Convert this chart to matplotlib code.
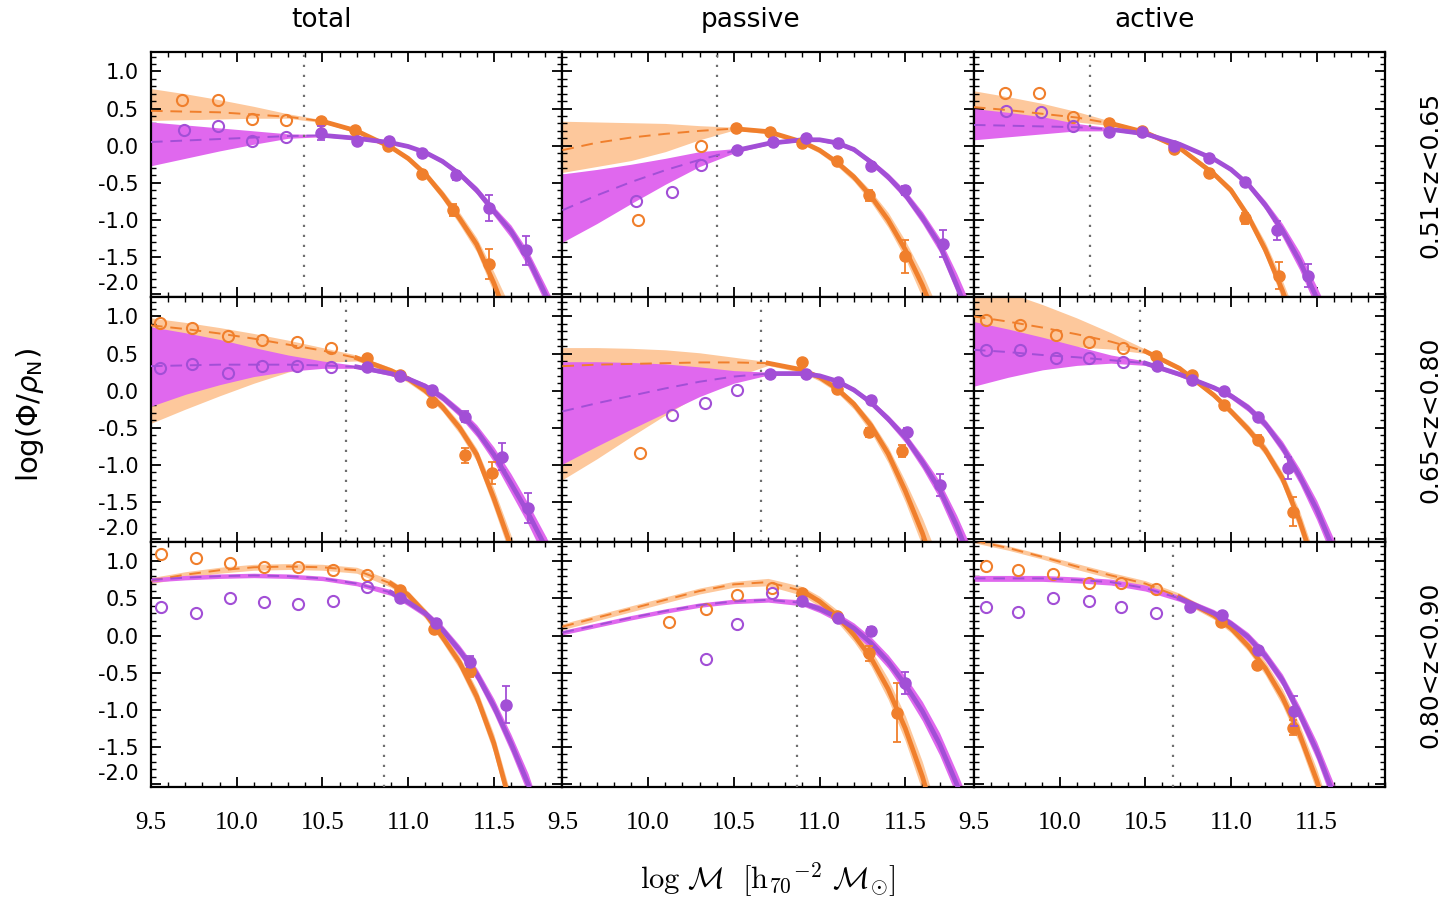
import numpy as np
import matplotlib.pyplot as plt
from matplotlib.ticker import MultipleLocator, FormatStrFormatter

plt.rcParams["axes.unicode_minus"] = False

# ── DATA ──────────────────────────────────────────────────────────────────────
# panels in reading order: rows = redshift bins, columns = total/passive/active
COLUMN_TITLES = ["total", "passive", "active"]
ROW_LABELS = ["0.51<z<0.65", "0.65<z<0.80", "0.80<z<0.90"]

# mass completeness limit per panel (vertical dotted line)
COMPLETENESS = [10.39, 10.40, 10.18, 10.64, 10.66, 10.47, 10.86, 10.87, 10.66]

GRID = [9.5, 9.7, 9.9, 10.1, 10.3, 10.5, 10.7, 10.9, 11.0, 11.1,
        11.2, 11.3, 11.4, 11.5, 11.6, 11.7, 11.8, 11.9]

# orange sample: best fit and its uncertainty band
OR_FIT = [
    [0.47, 0.46, 0.45, 0.42, 0.39, 0.33, 0.20, -0.02, -0.17, -0.38, -0.66, -0.98, -1.33, -1.85, -2.45, -3.1, -3.8, -4.5],
    [-0.06, 0.04, 0.11, 0.16, 0.20, 0.23, 0.19, 0.05, -0.06, -0.22, -0.42, -0.68, -1.00, -1.40, -1.88, -2.45, -3.1, -3.8],
    [0.52, 0.48, 0.43, 0.38, 0.30, 0.18, -0.03, -0.38, -0.60, -0.95, -1.40, -1.95, -2.6, -3.3, -4.0, -4.7, -5.4, -6.1],
    [0.88, 0.83, 0.77, 0.70, 0.62, 0.54, 0.44, 0.27, 0.16, 0.00, -0.22, -0.50, -0.86, -1.45, -2.10, -2.8, -3.5, -4.2],
    [0.33, 0.35, 0.36, 0.37, 0.38, 0.38, 0.37, 0.28, 0.18, 0.03, -0.18, -0.47, -0.85, -1.35, -1.92, -2.6, -3.3, -4.0],
    [1.00, 0.93, 0.85, 0.76, 0.66, 0.53, 0.30, -0.06, -0.28, -0.52, -0.80, -1.18, -1.75, -2.45, -3.2, -3.9, -4.6, -5.3],
    [0.74, 0.82, 0.88, 0.92, 0.93, 0.92, 0.88, 0.70, 0.55, 0.30, -0.02, -0.36, -0.82, -1.45, -2.3, -3.1, -3.9, -4.7],
    [0.12, 0.24, 0.36, 0.48, 0.60, 0.69, 0.72, 0.60, 0.46, 0.27, 0.01, -0.30, -0.72, -1.25, -1.90, -2.7, -3.5, -4.3],
    [1.28, 1.18, 1.06, 0.93, 0.81, 0.70, 0.52, 0.27, 0.10, -0.14, -0.44, -0.83, -1.33, -1.95, -2.7, -3.5, -4.3, -5.1],
]
OR_HI = [
    [0.77, 0.70, 0.62, 0.53, 0.43, 0.35, 0.23, 0.00, -0.14, -0.34, -0.60, -0.90, -1.24, -1.70, -2.20, -2.8, -3.5, -4.2],
    [0.33, 0.32, 0.31, 0.30, 0.27, 0.25, 0.21, 0.08, -0.03, -0.18, -0.37, -0.61, -0.90, -1.28, -1.72, -2.25, -2.9, -3.6],
    [0.74, 0.66, 0.57, 0.46, 0.33, 0.21, 0.00, -0.34, -0.55, -0.89, -1.30, -1.82, -2.4, -3.1, -3.8, -4.5, -5.2, -5.9],
    [0.98, 0.92, 0.85, 0.77, 0.68, 0.58, 0.48, 0.31, 0.20, 0.05, -0.16, -0.43, -0.78, -1.32, -1.95, -2.6, -3.3, -4.0],
    [0.58, 0.58, 0.57, 0.55, 0.51, 0.45, 0.39, 0.31, 0.21, 0.07, -0.13, -0.40, -0.76, -1.22, -1.72, -2.3, -3.0, -3.7],
    [1.45, 1.32, 1.16, 0.98, 0.78, 0.56, 0.33, -0.02, -0.23, -0.46, -0.73, -1.10, -1.62, -2.3, -3.0, -3.7, -4.4, -5.1],
    [0.78, 0.86, 0.92, 0.96, 0.97, 0.96, 0.92, 0.75, 0.60, 0.36, 0.05, -0.28, -0.72, -1.33, -2.15, -2.95, -3.75, -4.55],
    [0.16, 0.28, 0.40, 0.52, 0.64, 0.73, 0.77, 0.66, 0.53, 0.35, 0.10, -0.19, -0.58, -1.08, -1.70, -2.45, -3.25, -4.05],
    [1.31, 1.21, 1.09, 0.97, 0.85, 0.74, 0.57, 0.32, 0.16, -0.07, -0.35, -0.72, -1.20, -1.80, -2.5, -3.3, -4.1, -4.9],
]
OR_LO = [
    [0.34, 0.35, 0.36, 0.37, 0.37, 0.31, 0.17, -0.05, -0.21, -0.43, -0.72, -1.06, -1.43, -1.98, -2.65, -3.3, -4.0, -4.7],
    [-0.36, -0.28, -0.20, -0.08, 0.08, 0.21, 0.16, 0.02, -0.10, -0.27, -0.48, -0.76, -1.10, -1.52, -2.05, -2.7, -3.4, -4.1],
    [0.30, 0.30, 0.31, 0.32, 0.27, 0.15, -0.06, -0.42, -0.65, -1.01, -1.48, -2.08, -2.75, -3.5, -4.2, -4.9, -5.6, -6.3],
    [-0.44, -0.25, -0.07, 0.10, 0.25, 0.38, 0.40, 0.23, 0.11, -0.05, -0.28, -0.58, -0.95, -1.58, -2.25, -2.95, -3.7, -4.4],
    [-1.20, -0.92, -0.62, -0.33, -0.05, 0.18, 0.34, 0.24, 0.13, -0.02, -0.25, -0.56, -0.97, -1.50, -2.10, -2.8, -3.5, -4.2],
    [0.60, 0.60, 0.60, 0.59, 0.56, 0.50, 0.27, -0.10, -0.33, -0.58, -0.87, -1.27, -1.88, -2.6, -3.4, -4.1, -4.8, -5.5],
    [0.70, 0.78, 0.84, 0.88, 0.89, 0.88, 0.84, 0.65, 0.49, 0.23, -0.09, -0.45, -0.93, -1.58, -2.45, -3.25, -4.05, -4.85],
    [0.08, 0.20, 0.32, 0.44, 0.56, 0.65, 0.67, 0.54, 0.39, 0.19, -0.08, -0.41, -0.86, -1.42, -2.10, -2.95, -3.75, -4.55],
    [1.25, 1.15, 1.03, 0.89, 0.77, 0.66, 0.47, 0.22, 0.04, -0.21, -0.53, -0.94, -1.46, -2.10, -2.9, -3.7, -4.5, -5.3],
]

# purple sample: best fit and its uncertainty band
PU_FIT = [
    [0.05, 0.07, 0.09, 0.11, 0.13, 0.14, 0.10, 0.04, -0.01, -0.09, -0.21, -0.38, -0.60, -0.88, -1.15, -1.52, -2.00, -2.5],
    [-0.87, -0.67, -0.49, -0.33, -0.19, -0.07, 0.03, 0.08, 0.08, 0.04, -0.05, -0.22, -0.42, -0.66, -0.97, -1.33, -1.88, -2.45],
    [0.28, 0.27, 0.26, 0.25, 0.22, 0.16, 0.02, -0.18, -0.32, -0.52, -0.80, -1.14, -1.55, -2.05, -2.6, -3.2, -3.9, -4.6],
    [0.33, 0.34, 0.35, 0.35, 0.35, 0.34, 0.32, 0.23, 0.16, 0.06, -0.09, -0.29, -0.54, -0.86, -1.25, -1.65, -2.10, -2.6],
    [-0.28, -0.17, -0.07, 0.03, 0.12, 0.19, 0.23, 0.23, 0.20, 0.13, 0.01, -0.16, -0.38, -0.63, -0.96, -1.33, -1.82, -2.4],
    [0.55, 0.52, 0.48, 0.45, 0.41, 0.37, 0.22, 0.04, -0.07, -0.23, -0.45, -0.76, -1.15, -1.60, -2.15, -2.8, -3.5, -4.2],
    [0.75, 0.78, 0.80, 0.81, 0.80, 0.77, 0.70, 0.58, 0.45, 0.30, 0.08, -0.20, -0.52, -0.95, -1.45, -2.00, -2.7, -3.4],
    [0.04, 0.14, 0.24, 0.33, 0.41, 0.46, 0.48, 0.44, 0.36, 0.25, 0.10, -0.10, -0.35, -0.66, -1.02, -1.46, -2.00, -2.6],
    [0.77, 0.77, 0.77, 0.75, 0.72, 0.64, 0.50, 0.30, 0.16, -0.02, -0.27, -0.60, -1.05, -1.55, -2.15, -2.8, -3.5, -4.2],
]
PU_HI = [
    [0.32, 0.28, 0.24, 0.20, 0.16, 0.15, 0.12, 0.06, 0.01, -0.07, -0.18, -0.34, -0.55, -0.82, -1.07, -1.42, -1.88, -2.35],
    [-0.38, -0.32, -0.25, -0.17, -0.08, -0.04, 0.05, 0.10, 0.10, 0.07, -0.02, -0.18, -0.37, -0.60, -0.89, -1.24, -1.72, -2.25],
    [0.50, 0.45, 0.39, 0.30, 0.24, 0.18, 0.04, -0.16, -0.29, -0.48, -0.74, -1.05, -1.43, -1.90, -2.4, -3.0, -3.7, -4.4],
    [0.86, 0.78, 0.69, 0.58, 0.48, 0.40, 0.34, 0.26, 0.19, 0.10, -0.04, -0.23, -0.46, -0.76, -1.12, -1.52, -1.95, -2.4],
    [0.39, 0.39, 0.38, 0.36, 0.32, 0.27, 0.25, 0.25, 0.22, 0.16, 0.04, -0.12, -0.33, -0.57, -0.88, -1.22, -1.68, -2.2],
    [0.93, 0.83, 0.72, 0.60, 0.48, 0.40, 0.25, 0.07, -0.03, -0.18, -0.39, -0.68, -1.05, -1.48, -2.0, -2.6, -3.3, -4.0],
    [0.78, 0.81, 0.83, 0.84, 0.83, 0.80, 0.73, 0.62, 0.50, 0.35, 0.14, -0.13, -0.44, -0.85, -1.33, -1.86, -2.55, -3.2],
    [0.07, 0.17, 0.27, 0.36, 0.44, 0.49, 0.51, 0.48, 0.41, 0.31, 0.17, -0.02, -0.26, -0.55, -0.89, -1.31, -1.84, -2.4],
    [0.81, 0.81, 0.81, 0.79, 0.76, 0.68, 0.54, 0.35, 0.21, 0.04, -0.20, -0.52, -0.95, -1.43, -2.0, -2.65, -3.35, -4.05],
]
PU_LO = [
    [-0.27, -0.17, -0.07, 0.02, 0.10, 0.12, 0.08, 0.02, -0.03, -0.11, -0.24, -0.42, -0.65, -0.94, -1.24, -1.63, -2.12, -2.65],
    [-1.30, -1.05, -0.78, -0.52, -0.28, -0.10, 0.01, 0.06, 0.06, 0.01, -0.08, -0.26, -0.47, -0.72, -1.05, -1.43, -1.98, -2.6],
    [0.08, 0.12, 0.16, 0.20, 0.20, 0.14, 0.00, -0.20, -0.35, -0.56, -0.86, -1.23, -1.67, -2.2, -2.8, -3.4, -4.1, -4.8],
    [-0.21, -0.05, 0.08, 0.19, 0.26, 0.30, 0.30, 0.20, 0.13, 0.02, -0.14, -0.35, -0.62, -0.96, -1.38, -1.80, -2.28, -2.8],
    [-0.99, -0.75, -0.52, -0.30, -0.08, 0.10, 0.21, 0.21, 0.18, 0.10, -0.02, -0.20, -0.43, -0.70, -1.05, -1.45, -1.97, -2.6],
    [0.06, 0.18, 0.28, 0.34, 0.37, 0.34, 0.19, 0.01, -0.11, -0.28, -0.51, -0.84, -1.25, -1.74, -2.3, -3.0, -3.7, -4.4],
    [0.72, 0.75, 0.77, 0.78, 0.77, 0.74, 0.67, 0.54, 0.40, 0.25, 0.02, -0.27, -0.60, -1.05, -1.57, -2.14, -2.85, -3.6],
    [0.01, 0.11, 0.21, 0.30, 0.38, 0.43, 0.45, 0.40, 0.31, 0.19, 0.03, -0.18, -0.44, -0.77, -1.15, -1.61, -2.16, -2.8],
    [0.73, 0.73, 0.73, 0.71, 0.68, 0.60, 0.46, 0.25, 0.11, -0.08, -0.34, -0.68, -1.15, -1.67, -2.3, -2.95, -3.65, -4.35],
]

# open circles: points below the completeness limit
OR_OPEN_X = [
    [9.68, 9.89, 10.09, 10.29], [9.94, 10.31], [9.68, 9.88, 10.08],
    [9.55, 9.74, 9.95, 10.15, 10.35, 10.55], [9.95], [9.57, 9.77, 9.98, 10.17, 10.37],
    [9.56, 9.76, 9.96, 10.16, 10.36, 10.56, 10.76], [10.12, 10.34, 10.52, 10.72],
    [9.57, 9.76, 9.96, 10.17, 10.36, 10.56],
]
OR_OPEN_Y = [
    [0.61, 0.62, 0.36, 0.34], [-1.00, -0.01], [0.71, 0.71, 0.39],
    [0.91, 0.85, 0.73, 0.68, 0.66, 0.57], [-0.84], [0.95, 0.89, 0.75, 0.65, 0.58],
    [1.10, 1.04, 0.98, 0.92, 0.93, 0.89, 0.81], [0.18, 0.36, 0.55, 0.64],
    [0.94, 0.89, 0.83, 0.71, 0.71, 0.63],
]
PU_OPEN_X = [
    [9.69, 9.89, 10.09, 10.29], [9.93, 10.14, 10.31], [9.69, 9.89, 10.08],
    [9.55, 9.74, 9.95, 10.15, 10.35, 10.55], [10.14, 10.33, 10.52], [9.57, 9.77, 9.98, 10.17, 10.37],
    [9.56, 9.76, 9.96, 10.16, 10.36, 10.56, 10.76], [10.34, 10.52, 10.72],
    [9.57, 9.76, 9.96, 10.17, 10.36, 10.56],
]
PU_OPEN_Y = [
    [0.21, 0.26, 0.07, 0.12], [-0.74, -0.63, -0.26], [0.47, 0.45, 0.26],
    [0.31, 0.36, 0.24, 0.33, 0.33, 0.32], [-0.33, -0.16, 0.01], [0.55, 0.55, 0.44, 0.44, 0.38],
    [0.38, 0.31, 0.50, 0.45, 0.43, 0.47, 0.66], [-0.32, 0.15, 0.57],
    [0.38, 0.32, 0.50, 0.46, 0.38, 0.31],
]

# filled circles with error bars: points above the completeness limit
OR_FILL_X = [
    [10.49, 10.69, 10.88, 11.08, 11.26, 11.47], [10.51, 10.71, 10.90, 11.10, 11.29, 11.50],
    [10.29, 10.48, 10.67, 10.87, 11.08, 11.28], [10.76, 10.95, 11.14, 11.33, 11.49],
    [10.90, 11.10, 11.29, 11.48], [10.56, 10.77, 10.96, 11.16, 11.36],
    [10.95, 11.15, 11.36], [10.90, 11.10, 11.29, 11.45], [10.94, 11.15, 11.36],
]
OR_FILL_Y = [
    [0.33, 0.21, -0.01, -0.38, -0.87, -1.59], [0.24, 0.18, 0.03, -0.20, -0.67, -1.49],
    [0.30, 0.20, -0.04, -0.37, -0.98, -1.75], [0.44, 0.21, -0.15, -0.87, -1.11],
    [0.38, 0.02, -0.56, -0.81], [0.46, 0.21, -0.20, -0.66, -1.63],
    [0.62, 0.09, -0.48], [0.58, 0.26, -0.24, -1.04], [0.18, -0.39, -1.24],
]
OR_FILL_ERR = [
    [0.03, 0.03, 0.03, 0.05, 0.08, 0.20], [0.03, 0.03, 0.03, 0.04, 0.07, 0.22],
    [0.03, 0.03, 0.03, 0.05, 0.08, 0.18], [0.03, 0.03, 0.04, 0.10, 0.15],
    [0.03, 0.03, 0.06, 0.08], [0.03, 0.03, 0.04, 0.06, 0.20],
    [0.03, 0.04, 0.08], [0.03, 0.04, 0.10, 0.40], [0.03, 0.04, 0.10],
]
PU_FILL_X = [
    [10.49, 10.70, 10.89, 11.08, 11.28, 11.47, 11.69], [10.52, 10.73, 10.92, 11.11, 11.30, 11.50, 11.72],
    [10.29, 10.48, 10.67, 10.87, 11.08, 11.27, 11.45], [10.76, 10.95, 11.14, 11.33, 11.55, 11.70],
    [10.71, 10.92, 11.11, 11.30, 11.51, 11.70], [10.57, 10.77, 10.96, 11.16, 11.33],
    [10.95, 11.16, 11.36, 11.57], [10.90, 11.11, 11.30, 11.50], [10.76, 10.95, 11.16, 11.37],
]
PU_FILL_Y = [
    [0.17, 0.07, 0.07, -0.10, -0.40, -0.84, -1.41], [-0.06, 0.05, 0.11, 0.03, -0.27, -0.60, -1.32],
    [0.18, 0.18, 0.00, -0.16, -0.49, -1.14, -1.75], [0.32, 0.20, 0.01, -0.35, -0.89, -1.58],
    [0.23, 0.23, 0.11, -0.13, -0.56, -1.27], [0.33, 0.15, -0.01, -0.36, -1.04],
    [0.50, 0.17, -0.35, -0.93], [0.46, 0.24, 0.06, -0.64], [0.38, 0.28, -0.20, -1.02],
]
PU_FILL_ERR = [
    [0.09, 0.03, 0.03, 0.04, 0.06, 0.17, 0.20], [0.03, 0.03, 0.03, 0.03, 0.05, 0.06, 0.18],
    [0.03, 0.03, 0.03, 0.04, 0.05, 0.13, 0.15], [0.04, 0.03, 0.04, 0.07, 0.18, 0.20],
    [0.03, 0.03, 0.03, 0.04, 0.05, 0.15], [0.03, 0.03, 0.03, 0.05, 0.15],
    [0.03, 0.05, 0.08, 0.25], [0.03, 0.04, 0.06, 0.15], [0.03, 0.03, 0.04, 0.20],
]

# ── STYLE ─────────────────────────────────────────────────────────────────────
ORANGE = "#f07f2c"
ORANGE_BAND = "#fdc89c"
PURPLE = "#a24fd6"
PURPLE_BAND = "#e068ee"
SANS = "DejaVu Sans"

fig, axes = plt.subplots(3, 3, figsize=(14.46, 9.0), dpi=100)
fig.subplots_adjust(left=0.1044, right=0.958, top=0.942, bottom=0.1256,
                    wspace=0, hspace=0)

grid = np.array(GRID)
series = [
    (OR_FIT, OR_HI, OR_LO, OR_OPEN_X, OR_OPEN_Y, OR_FILL_X, OR_FILL_Y, OR_FILL_ERR, ORANGE, ORANGE_BAND),
    (PU_FIT, PU_HI, PU_LO, PU_OPEN_X, PU_OPEN_Y, PU_FILL_X, PU_FILL_Y, PU_FILL_ERR, PURPLE, PURPLE_BAND),
]

for i, ax in enumerate(axes.flat):
    row, col = divmod(i, 3)
    lim = COMPLETENESS[i]
    k = int(np.searchsorted(grid, lim))

    for j, (fit, hi, lo, ox, oy, fx, fy, fe, colr, band) in enumerate(series):
        ax.fill_between(grid, lo[i], hi[i], color=band, lw=0, zorder=1 + j)

    ax.axvline(lim, color="#6f6f6f", ls=(0, (1, 3.5)), lw=1.6, zorder=3)

    for j, (fit, hi, lo, ox, oy, fx, fy, fe, colr, band) in enumerate(series):
        y = np.array(fit[i])
        ax.plot(ox[i], oy[i], "o", mfc="none", mec=colr, ms=8, mew=1.5, zorder=4)
        ax.plot(grid[:k + 1], y[:k + 1], color=colr, lw=1.4, dashes=(6, 4), zorder=5)
        ax.plot(grid[k:], y[k:], color=colr, lw=3.4, zorder=6 + j)
        ax.errorbar(fx[i], fy[i], yerr=fe[i], fmt="o", color=colr, ms=8,
                    elinewidth=1.3, capsize=3, capthick=1.3, zorder=8 + j)

    ax.set_xlim(9.5, 11.9)
    ax.set_ylim(-2.04, 1.26)
    ax.set_xticks([9.5, 10.0, 10.5, 11.0, 11.5])
    ax.set_yticks([-2.0, -1.5, -1.0, -0.5, 0.0, 0.5, 1.0])
    ax.xaxis.set_minor_locator(MultipleLocator(0.1))
    ax.yaxis.set_minor_locator(MultipleLocator(0.1))
    ax.xaxis.set_major_formatter(FormatStrFormatter("%.1f"))
    ax.yaxis.set_major_formatter(FormatStrFormatter("%.1f"))
    ax.tick_params(which="both", direction="in", top=True, right=True, color="black")
    ax.tick_params(which="major", length=7, width=1.3)
    ax.tick_params(which="minor", length=3.5, width=1.0)
    ax.tick_params(axis="x", pad=18, labelbottom=(row == 2))
    ax.tick_params(axis="y", pad=9, labelsize=15, labelleft=(col == 0))
    for t in ax.xaxis.get_major_ticks():
        t.label1.set_fontfamily("Liberation Serif")
        t.label1.set_fontsize(18)
    for t in ax.yaxis.get_major_ticks():
        t.label1.set_fontfamily(SANS)
    ax.yaxis.get_major_ticks()[0].label1.set_verticalalignment("bottom")
    for s in ax.spines.values():
        s.set_linewidth(1.6)

# ── TEXT ──────────────────────────────────────────────────────────────────────
for x, t in zip([322, 750, 1155], COLUMN_TITLES):
    fig.text(x / 1446, 1 - 20 / 900, t, ha="center", va="center", fontsize=19, family=SANS)
for yc, t in zip([174.5, 419.5, 664.5], ROW_LABELS):
    fig.text(1430 / 1446, 1 - yc / 900, t, ha="center", va="center", rotation=90,
             fontsize=18, family=SANS)

fig.text(30 / 1446, 1 - 415 / 900, r"log($\Phi/\rho_{\rm N}$)", rotation=90,
         ha="center", va="center", fontsize=21, family=SANS, math_fontfamily="dejavusans")
fig.text(768 / 1446, 1 - 880 / 900,
         r"$\mathrm{log}\ \mathcal{M}\ \ [\mathrm{h}_{70}{}^{-2}\ \mathcal{M}_{\odot}]$",
         ha="center", va="center", fontsize=22, math_fontfamily="cm")

plt.savefig("out.png", dpi=100)
